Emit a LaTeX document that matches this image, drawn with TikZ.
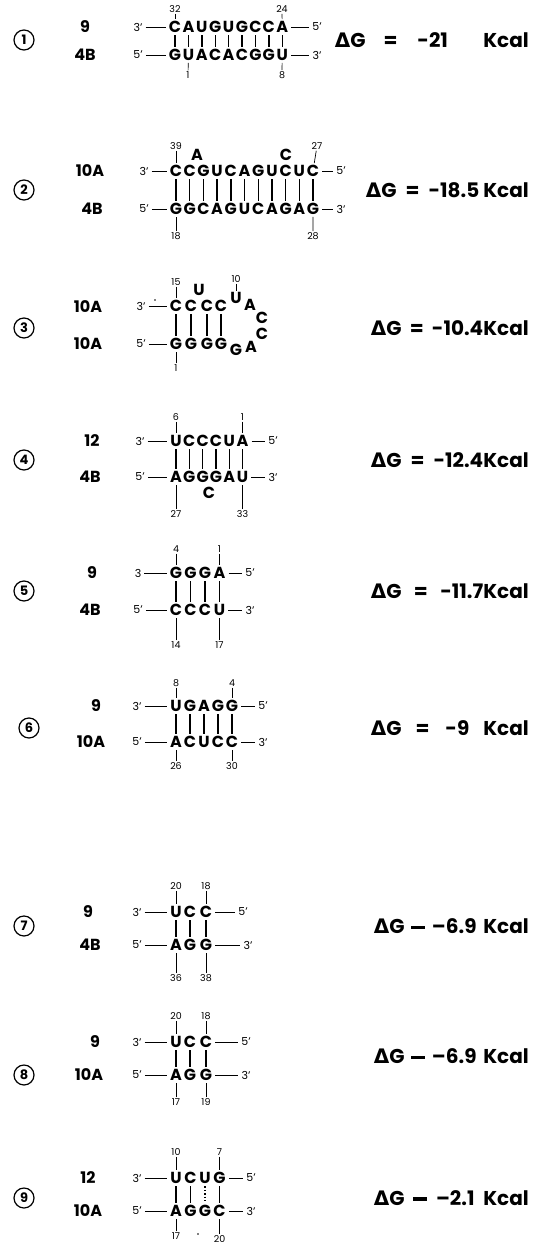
\documentclass[tikz,border=0pt]{standalone}
\usepackage{fontspec}
\setmainfont{Poppins}
\newfontfamily\grk{DejaVu Sans}
\begin{document}
\begin{tikzpicture}[x=1pt,y=-1pt,
  nt/.style={font=\fontsize{16}{16}\selectfont\bfseries, inner sep=1pt, text height=11.5pt, text depth=0pt},
  lp/.style={font=\fontsize{16}{16}\selectfont\bfseries, inner sep=0pt, text height=11.5pt, text depth=0pt},
  nn/.style={font=\fontsize{9.5}{9.5}\selectfont, inner sep=0.6pt},
  en/.style={font=\fontsize{11}{11}\selectfont, inner sep=1pt},
  lab/.style={font=\fontsize{16}{16}\selectfont\bfseries, inner sep=0pt},
  circ/.style={circle, draw, line width=1.2pt, minimum size=20pt, inner sep=0pt, font=\fontsize{13}{13}\selectfont\bfseries},
  dg/.style={font=\fontsize{20}{20}\selectfont\bfseries, anchor=east, inner sep=0pt, align=left},
  bp/.style={line width=1.4pt, shorten >=1.5pt, shorten <=1.5pt},
  bpd/.style={line width=1.4pt, dotted, shorten >=1.5pt, shorten <=1.5pt},
  sbond/.style={line width=0.9pt, shorten >=2pt, shorten <=2pt},
  tk/.style={line width=0.7pt, shorten >=1pt, shorten <=0.5pt}]
\useasboundingbox (0,0) rectangle (534,1249);
\newcommand{\heq}{\rule[4.5pt]{14pt}{3.4pt}}
\newcommand{\dgl}{{\grk Δ}G}
% ---------- panel 1
\node[circ] (c1) at (24,40) {1};
\node[lab] (l1a) at (85,27) {9};
\node[lab] (l1b) at (85,55) {4B};
\foreach \l [count=\i] in {C,A,U,G,U,G,C,C,A} \node[nt] (t1-\i) at ({175+(\i-1)*13.4},27) {\l};
\foreach \l [count=\i] in {G,U,A,C,A,C,G,G,U} \node[nt] (b1-\i) at ({175+(\i-1)*13.4},55) {\l};
\foreach \i in {1,...,9} \draw[bp] (t1-\i) -- (b1-\i);
\node[en] (t1l) at (138,27) {3’};
\node[en] (t1r) at (317,27) {5’};
\node[en] (b1l) at (138,55) {5’};
\node[en] (b1r) at (317,55) {3’};
\draw[sbond] (t1l) -- (t1-1); \draw[sbond] (t1-9) -- (t1r);
\draw[sbond] (b1l) -- (b1-1); \draw[sbond] (b1-9) -- (b1r);
\node[nn] (n1a) at (175,9) {32}; \draw[tk] (n1a) -- (t1-1);
\node[nn] (n1b) at (282,9) {24}; \draw[tk] (n1b) -- (t1-9);
\node[nn] (n1c) at (188,75) {1}; \draw[tk] (n1c) -- (b1-2);
\node[nn] (n1d) at (282,75) {8}; \draw[tk] (n1d) -- (b1-9);
\node[dg, text width=194pt] (g1) at (529,40) {\dgl\hspace{18pt}=\hspace{20pt}-21\hfill Kcal};
% ---------- panel 2
\node[circ] (c2) at (24,190) {2};
\node[lab] (l2a) at (90,171) {10A};
\node[lab] (l2b) at (92,209) {4B};
\foreach \l [count=\i] in {C,C,G,U,C,A,G,U,C,U,C} \node[nt] (t2-\i) at ({176+(\i-1)*13.7},171) {\l};
\foreach \l [count=\i] in {G,G,C,A,G,U,C,A,G,A,G} \node[nt] (b2-\i) at ({176+(\i-1)*13.7},209) {\l};
\foreach \i in {1,...,11} \draw[bp] (t2-\i) -- (b2-\i);
\node[nt] (x2a) at (197,155) {A};
\node[nt] (x2b) at (286,155) {C};
\node[en] (t2l) at (144,171) {3’};
\node[en] (t2r) at (341,171) {5’};
\node[en] (b2l) at (144,209) {5’};
\node[en] (b2r) at (341,209) {3’};
\draw[sbond] (t2l) -- (t2-1); \draw[sbond] (t2-11) -- (t2r);
\draw[sbond] (b2l) -- (b2-1); \draw[sbond] (b2-11) -- (b2r);
\node[nn] (n2a) at (176,146) {39}; \draw[tk] (n2a) -- (t2-1);
\node[nn] (n2b) at (317,146) {27}; \draw[tk] (n2b) -- (t2-11);
\node[nn] (n2c) at (176,236) {18}; \draw[tk] (n2c) -- (b2-1);
\node[nn] (n2d) at (313,236) {28}; \draw[tk] (n2d) -- (b2-11);
\node[dg, text width=163pt] (g2) at (529,190) {\dgl\hfill=\hfill-18.5\hspace{4pt}Kcal};
% ---------- panel 3
\node[circ] (c3) at (24,328) {3};
\node[lab] (l3a) at (88,307) {10A};
\node[lab] (l3b) at (88,344) {10A};
\foreach \l/\x [count=\i] in {C/176,C/191,C/207,C/221} \node[nt] (t3-\i) at (\x,306) {\l};
\foreach \l/\x [count=\i] in {G/176,G/191,G/207,G/221} \node[nt] (b3-\i) at (\x,344) {\l};
\foreach \i in {1,...,4} \draw[bp] (t3-\i) -- (b3-\i);
\node[nt] (x3u) at (199,290) {U};
\node[lp] (x3a) at (236,298) {U};
\node[lp] (x3b) at (250,305) {A};
\node[lp] (x3c) at (262,318) {C};
\node[lp] (x3d) at (262,334) {C};
\node[lp] (x3e) at (251,347) {A};
\node[lp] (x3f) at (236,350) {G};
\node[en] (t3l) at (141,306) {3’};
\node[en] (b3l) at (141,344) {5’};
\draw[sbond] (t3l) -- (t3-1); \draw[sbond] (b3l) -- (b3-1);
\fill (155,300) circle (0.8pt);
\node[nn] (n3a) at (176,282) {15}; \draw[tk] (n3a) -- (t3-1);
\node[nn] (n3b) at (236,279) {10}; \draw[tk] (n3b) -- (x3a);
\node[nn] (n3c) at (176,368) {1}; \draw[tk] (n3c) -- (b3-1);
\node[dg, text width=158pt] (g3) at (529,328) {\dgl\hfill=\hfill-10.4Kcal};
% ---------- panel 4
\node[circ] (c4) at (24,460) {4};
\node[lab] (l4a) at (92,441) {12};
\node[lab] (l4b) at (90,477) {4B};
\foreach \l [count=\i] in {U,C,C,C,U,A} \node[nt] (t4-\i) at ({176+(\i-1)*13.3},441) {\l};
\foreach \l [count=\i] in {A,G,G,G,A,U} \node[nt] (b4-\i) at ({176+(\i-1)*13.3},477) {\l};
\foreach \i in {1,...,6} \draw[bp] (t4-\i) -- (b4-\i);
\node[nt] (x4) at (209,493) {C};
\node[en] (t4l) at (140,441) {3’};
\node[en] (t4r) at (273,441) {5’};
\node[en] (b4l) at (140,477) {5’};
\node[en] (b4r) at (273,477) {3’};
\draw[sbond] (t4l) -- (t4-1); \draw[sbond] (t4-6) -- (t4r);
\draw[sbond] (b4l) -- (b4-1); \draw[sbond] (b4-6) -- (b4r);
\node[nn] (n4a) at (176,417) {6}; \draw[tk] (n4a) -- (t4-1);
\node[nn] (n4b) at (242.5,417) {1}; \draw[tk] (n4b) -- (t4-6);
\node[nn] (n4c) at (176,514) {27}; \draw[tk] (n4c) -- (b4-1);
\node[nn] (n4d) at (242.5,514) {33}; \draw[tk] (n4d) -- (b4-6);
\node[dg, text width=158pt] (g4) at (529,460) {\dgl\hfill=\hfill-12.4Kcal};
% ---------- panel 5
\node[circ] (c5) at (24,591) {5};
\node[lab] (l5a) at (92,573) {9};
\node[lab] (l5b) at (90,610) {4B};
\foreach \l [count=\i] in {G,G,G,A} \node[nt] (t5-\i) at ({176+(\i-1)*14.5},573) {\l};
\foreach \l [count=\i] in {C,C,C,U} \node[nt] (b5-\i) at ({176+(\i-1)*14.5},610) {\l};
\foreach \i in {1,...,4} \draw[bp] (t5-\i) -- (b5-\i);
\node[en] (t5l) at (138,573) {3};
\node[en] (t5r) at (250,573) {5’};
\node[en] (b5l) at (138,610) {5’};
\node[en] (b5r) at (250,610) {3’};
\draw[sbond] (t5l) -- (t5-1); \draw[sbond] (t5-4) -- (t5r);
\draw[sbond] (b5l) -- (b5-1); \draw[sbond] (b5-4) -- (b5r);
\node[nn] (n5a) at (176,549) {4}; \draw[tk] (n5a) -- (t5-1);
\node[nn] (n5b) at (219.5,549) {1}; \draw[tk] (n5b) -- (t5-4);
\node[nn] (n5c) at (176,645) {14}; \draw[tk] (n5c) -- (b5-1);
\node[nn] (n5d) at (219.5,645) {17}; \draw[tk] (n5d) -- (b5-4);
\node[dg, text width=158pt] (g5) at (529,591) {\dgl\hfill=\hfill-11.7Kcal};
% ---------- panel 6
\node[circ] (c6) at (29,728) {6};
\node[lab] (l6a) at (96,706) {9};
\node[lab] (l6b) at (91,742) {10A};
\foreach \l [count=\i] in {U,G,A,G,G} \node[nt] (t6-\i) at ({176+(\i-1)*14},706) {\l};
\foreach \l [count=\i] in {A,C,U,C,C} \node[nt] (b6-\i) at ({176+(\i-1)*14},742) {\l};
\foreach \i in {1,...,5} \draw[bp] (t6-\i) -- (b6-\i);
\node[en] (t6l) at (137,706) {3’};
\node[en] (t6r) at (263,706) {5’};
\node[en] (b6l) at (137,742) {5’};
\node[en] (b6r) at (263,742) {3’};
\draw[sbond] (t6l) -- (t6-1); \draw[sbond] (t6-5) -- (t6r);
\draw[sbond] (b6l) -- (b6-1); \draw[sbond] (b6-5) -- (b6r);
\node[nn] (n6a) at (176,683) {8}; \draw[tk] (n6a) -- (t6-1);
\node[nn] (n6b) at (232,683) {4}; \draw[tk] (n6b) -- (t6-5);
\node[nn] (n6c) at (176,766) {26}; \draw[tk] (n6c) -- (b6-1);
\node[nn] (n6d) at (232,766) {30}; \draw[tk] (n6d) -- (b6-5);
\node[dg, text width=158pt] (g6) at (529,728) {\dgl\hspace{14pt}=\hspace{16pt}-9\hfill Kcal};
% ---------- panel 7
\node[circ] (c7) at (24,926) {7};
\node[lab] (l7a) at (88,912) {9};
\node[lab] (l7b) at (90,945) {4B};
\foreach \l/\x [count=\i] in {U/176,C/190,C/206} \node[nt] (t7-\i) at (\x,912) {\l};
\foreach \l/\x [count=\i] in {A/176,G/190,G/206} \node[nt] (b7-\i) at (\x,945) {\l};
\foreach \i in {1,...,3} \draw[bp] (t7-\i) -- (b7-\i);
\node[en] (t7l) at (137,912) {3’};
\node[en] (t7r) at (243,912) {5’};
\node[en] (b7l) at (137,945) {5’};
\node[en] (b7r) at (248,945) {3’};
\draw[sbond] (t7l) -- (t7-1); \draw[sbond] (t7-3) -- (t7r);
\draw[sbond] (b7l) -- (b7-1); \draw[sbond] (b7-3) -- (b7r);
\node[nn] (n7a) at (176,886) {20}; \draw[tk] (n7a) -- (t7-1);
\node[nn] (n7b) at (206,886) {18}; \draw[tk] (n7b) -- (t7-3);
\node[nn] (n7c) at (176,978) {36}; \draw[tk] (n7c) -- (b7-1);
\node[nn] (n7d) at (206,978) {38}; \draw[tk] (n7d) -- (b7-3);
\node[dg, text width=155pt] (g7) at (529,926) {\dgl\hfill\heq\hfill–6.9\hfill Kcal};
% ---------- panel 8
\node[circ] (c8) at (24,1075) {8};
\node[lab] (l8a) at (95,1042) {9};
\node[lab] (l8b) at (89,1075) {10A};
\foreach \l/\x [count=\i] in {U/176,C/190,C/206} \node[nt] (t8-\i) at (\x,1042) {\l};
\foreach \l/\x [count=\i] in {A/176,G/190,G/206} \node[nt] (b8-\i) at (\x,1075) {\l};
\foreach \i in {1,...,3} \draw[bp] (t8-\i) -- (b8-\i);
\node[en] (t8l) at (137,1042) {3’};
\node[en] (t8r) at (246,1042) {5’};
\node[en] (b8l) at (137,1075) {5’};
\node[en] (b8r) at (246,1075) {3’};
\draw[sbond] (t8l) -- (t8-1); \draw[sbond] (t8-3) -- (t8r);
\draw[sbond] (b8l) -- (b8-1); \draw[sbond] (b8-3) -- (b8r);
\node[nn] (n8a) at (176,1016) {20}; \draw[tk] (n8a) -- (t8-1);
\node[nn] (n8b) at (206,1016) {18}; \draw[tk] (n8b) -- (t8-3);
\node[nn] (n8c) at (176,1102) {17}; \draw[tk] (n8c) -- (b8-1);
\node[nn] (n8d) at (206,1102) {19}; \draw[tk] (n8d) -- (b8-3);
\node[dg, text width=155pt] (g8) at (529,1056) {\dgl\hfill\heq\hfill–6.9\hfill Kcal};
% ---------- panel 9
\node[circ] (c9) at (24,1198) {9};
\node[lab] (l9a) at (88,1178) {12};
\node[lab] (l9b) at (88,1211) {10A};
\foreach \l [count=\i] in {U,C,U,G} \node[nt] (t9-\i) at ({176+(\i-1)*14.5},1178) {\l};
\foreach \l [count=\i] in {A,G,G,C} \node[nt] (b9-\i) at ({176+(\i-1)*14.5},1211) {\l};
\draw[bp] (t9-1) -- (b9-1); \draw[bp] (t9-2) -- (b9-2);
\draw[bpd] (t9-3) -- (b9-3); \draw[bp] (t9-4) -- (b9-4);
\node[en] (t9l) at (137,1178) {3’};
\node[en] (t9r) at (251,1178) {5’};
\node[en] (b9l) at (137,1211) {5’};
\node[en] (b9r) at (251,1211) {3’};
\draw[sbond] (t9l) -- (t9-1); \draw[sbond] (t9-4) -- (t9r);
\draw[sbond] (b9l) -- (b9-1); \draw[sbond] (b9-4) -- (b9r);
\node[nn] (n9a) at (176,1152) {10}; \draw[tk] (n9a) -- (t9-1);
\node[nn] (n9b) at (219.5,1152) {7}; \draw[tk] (n9b) -- (t9-4);
\node[nn] (n9c) at (176,1236) {17}; \draw[tk] (n9c) -- (b9-1);
\node[nn] (n9d) at (219.5,1239) {20}; \draw[tk] (n9d) -- (b9-4);
\fill (198,1234) circle (0.8pt);
\node[dg, text width=155pt] (g9) at (529,1198) {\dgl\hfill\heq\hfill–2.1\hfill Kcal};
\end{tikzpicture}
\end{document}
